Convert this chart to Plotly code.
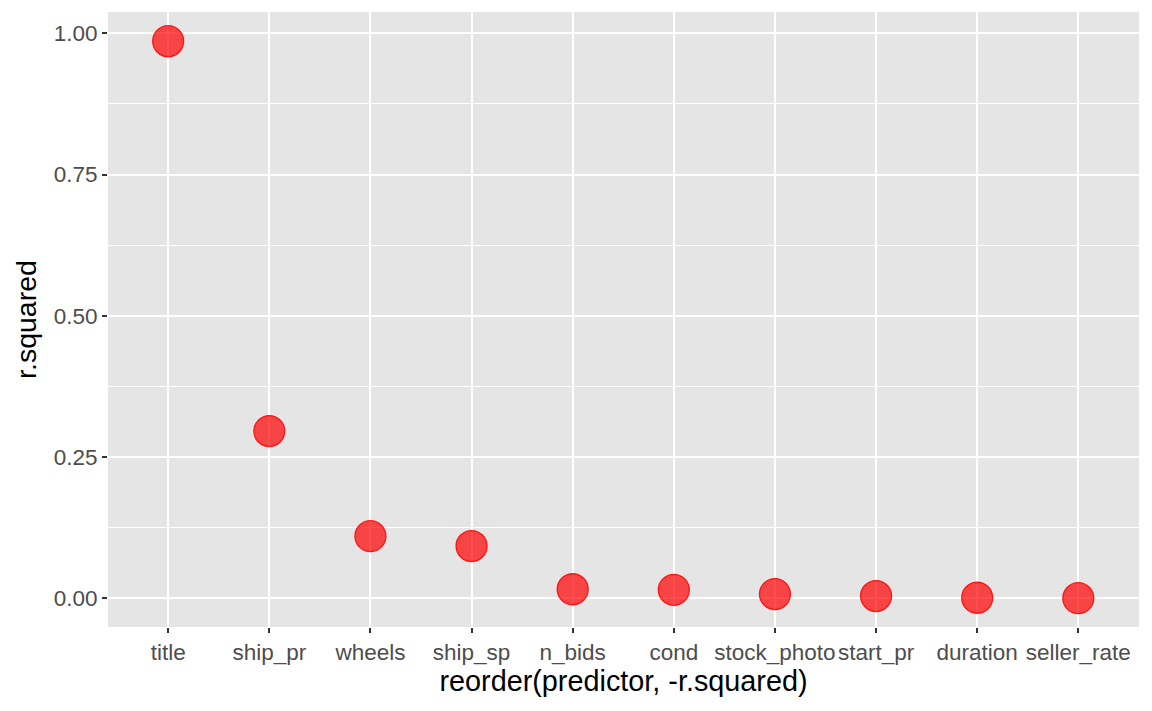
import plotly.graph_objects as go

# predictors ordered by r.squared
predictors = ["title", "ship_pr", "wheels", "ship_sp", "n_bids", "cond",
              "stock_photo", "start_pr", "duration", "seller_rate"]
r_squared = [0.986, 0.296, 0.110, 0.0925, 0.016, 0.015, 0.0075, 0.004, 0.001, 0.0002]

fig = go.Figure()
fig.add_trace(go.Scatter(
    x=predictors, y=r_squared, mode="markers",
    marker=dict(size=31, color="rgba(255,0,0,0.7)", line=dict(color="rgba(255,0,0,0.85)", width=1.3)),
    showlegend=False
))

fig.update_layout(
    width=1152, height=711,
    margin=dict(l=108, r=13, t=12, b=84),
    paper_bgcolor="white", plot_bgcolor="#E5E5E5",
    font=dict(family="Liberation Sans, Arial, sans-serif", color="#4D4D4D"),
)
fig.update_xaxes(
    range=[-0.595, 9.6], showgrid=True, gridcolor="white", gridwidth=2,
    ticks="outside", ticklen=5, tickwidth=1.5, tickcolor="#333333",
    tickangle=0, automargin=False,
    tickfont=dict(size=22.5, color="#4D4D4D"), zeroline=False,
    title=dict(text="reorder(predictor, -r.squared)", font=dict(size=28.8, color="black"), standoff=2),
)
fig.update_yaxes(
    range=[-0.0508, 1.0377], tickvals=[0, 0.25, 0.5, 0.75, 1.0],
    ticktext=["0.00", "0.25", "0.50", "0.75", "1.00"],
    showgrid=True, gridcolor="white", gridwidth=2,
    minor=dict(tickvals=[0.125, 0.375, 0.625, 0.875], showgrid=True, gridcolor="white", gridwidth=0.8, ticks=""),
    ticks="outside", ticklen=5, tickwidth=1.5, tickcolor="#333333",
    automargin=False,
    tickfont=dict(size=22.5, color="#4D4D4D"), zeroline=False,
    title=dict(text="r.squared", font=dict(size=28.5, color="black"), standoff=8),
)

fig.write_html("out.html", config={"displayModeBar": False},
               post_script="document.body.style.margin='0';")
